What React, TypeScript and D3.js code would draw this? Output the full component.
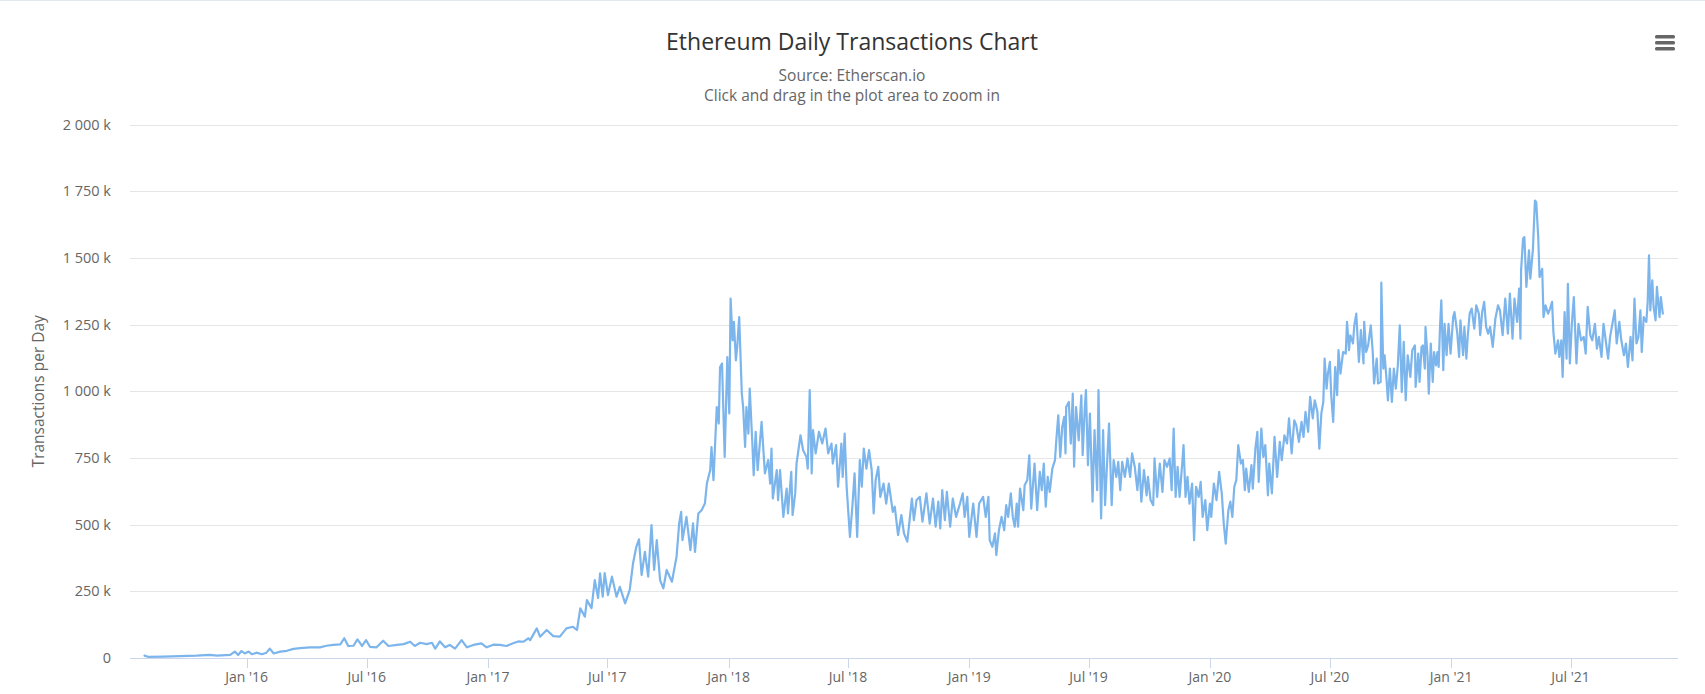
import React, { useEffect, useRef } from "react";
import * as d3 from "d3";

const WIDTH = 1705;
const HEIGHT = 694;

// daily transactions (thousands): [month-day, value]
const tx2015: [string, number][] = [
  ["07-30", 9], ["08-05", 4], ["08-28", 5], ["09-22", 7], ["10-17", 9], ["11-06", 12], ["11-17", 9],
  ["12-07", 12], ["12-14", 24], ["12-19", 11], ["12-24", 26], ["12-29", 17],
];
const tx2016: [string, number][] = [
  ["01-04", 24], ["01-09", 14], ["01-16", 20], ["01-24", 14], ["01-31", 20], ["02-05", 35], ["02-11", 17],
  ["02-21", 24], ["03-02", 27], ["03-12", 34], ["03-22", 37], ["04-06", 40], ["04-21", 40], ["05-01", 46],
  ["05-11", 49], ["05-22", 51], ["05-28", 74], ["06-03", 45], ["06-11", 46], ["06-17", 70], ["06-24", 45],
  ["06-30", 67], ["07-06", 42], ["07-16", 40], ["07-26", 65], ["08-03", 45], ["08-16", 49], ["08-26", 52],
  ["09-05", 61], ["09-12", 45], ["09-20", 57], ["09-30", 52], ["10-08", 57], ["10-13", 35], ["10-20", 62],
  ["10-28", 40], ["11-04", 49], ["11-12", 35], ["11-22", 67], ["11-30", 40], ["12-10", 49], ["12-22", 55],
  ["12-30", 40],
];
const tx2017: [string, number][] = [
  ["01-09", 50], ["01-19", 49], ["01-29", 45], ["02-08", 55], ["02-16", 62], ["02-24", 61], ["03-03", 74],
  ["03-06", 67], ["03-16", 111], ["03-21", 80], ["03-31", 105], ["04-10", 82], ["04-20", 80], ["04-30", 111],
  ["05-10", 117], ["05-16", 105], ["05-21", 186], ["05-28", 155], ["05-31", 217], ["06-07", 187], ["06-12", 292],
  ["06-17", 225], ["06-20", 317], ["06-24", 230], ["06-27", 318], ["07-02", 236], ["07-08", 305], ["07-15", 230],
  ["07-20", 267], ["07-28", 205], ["08-04", 255], ["08-09", 355], ["08-14", 417], ["08-18", 445], ["08-22", 311],
  ["08-27", 398], ["09-01", 305], ["09-06", 498], ["09-10", 330], ["09-14", 442], ["09-19", 292], ["09-24", 261],
  ["09-29", 330], ["10-07", 286], ["10-14", 380], ["10-18", 505], ["10-21", 548], ["10-23", 442], ["10-29", 529],
  ["11-04", 404], ["11-08", 505], ["11-11", 398], ["11-16", 542], ["11-21", 554], ["11-26", 579], ["11-29", 654],
  ["12-04", 704], ["12-06", 791], ["12-09", 667], ["12-14", 941], ["12-17", 879], ["12-19", 1091], ["12-22", 1104],
  ["12-26", 754], ["12-30", 1128],
];
const tx2018: [string, number][] = [
  ["01-02", 917], ["01-04", 1347], ["01-07", 1191], ["01-09", 1260], ["01-12", 1116], ["01-14", 1166], ["01-17", 1278],
  ["01-21", 991], ["01-23", 941], ["01-26", 791], ["01-28", 941], ["01-31", 841], ["02-02", 1010], ["02-06", 804],
  ["02-08", 685], ["02-11", 848], ["02-14", 704], ["02-20", 885], ["02-25", 692], ["03-02", 742], ["03-05", 654],
  ["03-07", 785], ["03-09", 598], ["03-15", 704], ["03-17", 592], ["03-20", 704], ["03-25", 529], ["03-30", 635],
  ["04-01", 542], ["04-06", 698], ["04-08", 536], ["04-12", 617], ["04-14", 729], ["04-20", 835], ["04-24", 779],
  ["04-29", 754], ["05-01", 710], ["05-04", 1004], ["05-07", 692], ["05-09", 854], ["05-13", 767], ["05-18", 848],
  ["05-23", 804], ["05-28", 860], ["06-01", 767], ["06-06", 804], ["06-08", 729], ["06-13", 798], ["06-16", 642],
  ["06-21", 804], ["06-23", 679], ["06-26", 841], ["06-29", 642], ["07-04", 454], ["07-08", 579], ["07-11", 692],
  ["07-15", 454], ["07-19", 742], ["07-22", 642], ["07-25", 785], ["07-29", 710], ["08-02", 779], ["08-06", 704],
  ["08-09", 542], ["08-12", 667], ["08-16", 717], ["08-19", 604], ["08-24", 654], ["08-28", 579], ["09-01", 654],
  ["09-07", 548], ["09-10", 567], ["09-15", 461], ["09-20", 536], ["09-24", 467], ["09-29", 436], ["10-06", 598],
  ["10-09", 517], ["10-13", 592], ["10-18", 604], ["10-22", 511], ["10-28", 617], ["11-02", 504], ["11-07", 598],
  ["11-11", 492], ["11-15", 586], ["11-18", 486], ["11-21", 629], ["11-25", 517], ["11-28", 623], ["12-03", 492],
  ["12-07", 598], ["12-12", 529], ["12-18", 579], ["12-22", 617], ["12-25", 529], ["12-29", 604],
];
const tx2019: [string, number][] = [
  ["01-01", 454], ["01-07", 579], ["01-12", 454], ["01-16", 579], ["01-22", 604], ["01-26", 529], ["01-30", 604],
  ["02-01", 442], ["02-05", 417], ["02-09", 467], ["02-11", 386], ["02-15", 479], ["02-19", 529], ["02-23", 479],
  ["02-26", 573], ["03-01", 529], ["03-05", 617], ["03-08", 529], ["03-11", 492], ["03-14", 579], ["03-16", 492],
  ["03-19", 635], ["03-24", 554], ["03-26", 648], ["03-30", 667], ["04-02", 760], ["04-05", 560], ["04-10", 729],
  ["04-14", 554], ["04-18", 698], ["04-21", 629], ["04-24", 729], ["04-27", 567], ["04-30", 679], ["05-03", 623],
  ["05-07", 710], ["05-11", 742], ["05-13", 816], ["05-16", 910], ["05-19", 754], ["05-22", 866], ["05-25", 904],
  ["05-27", 767], ["05-28", 941], ["06-01", 960], ["06-04", 804], ["06-07", 991], ["06-09", 717], ["06-12", 941],
  ["06-16", 816], ["06-20", 985], ["06-22", 760], ["06-25", 929], ["06-27", 1004], ["06-30", 723], ["07-03", 916],
  ["07-07", 586], ["07-10", 854], ["07-14", 629], ["07-16", 1004], ["07-20", 523], ["07-23", 854], ["07-26", 573],
  ["07-29", 729], ["08-01", 879], ["08-05", 573], ["08-08", 742], ["08-12", 679], ["08-15", 735], ["08-18", 629],
  ["08-21", 735], ["08-25", 679], ["08-29", 748], ["09-02", 679], ["09-05", 767], ["09-09", 717], ["09-13", 629],
  ["09-16", 729], ["09-19", 586], ["09-23", 704], ["09-27", 610], ["09-29", 679], ["10-03", 592], ["10-07", 573],
  ["10-09", 748], ["10-13", 604], ["10-17", 729], ["10-21", 623], ["10-24", 742], ["10-28", 717], ["11-01", 748],
  ["11-04", 629], ["11-07", 860], ["11-10", 604], ["11-13", 717], ["11-16", 604], ["11-20", 729], ["11-22", 798],
  ["11-25", 604], ["11-28", 679], ["12-01", 579], ["12-05", 654], ["12-08", 442], ["12-11", 642], ["12-15", 604],
  ["12-18", 660], ["12-21", 529], ["12-25", 592], ["12-28", 479],
];
const tx2020: [string, number][] = [
  ["01-01", 579], ["01-03", 529], ["01-07", 654], ["01-11", 592], ["01-15", 698], ["01-19", 617], ["01-22", 504],
  ["01-25", 429], ["01-29", 554], ["02-01", 586], ["02-04", 529], ["02-07", 642], ["02-10", 667], ["02-13", 798],
  ["02-17", 729], ["02-20", 742], ["02-23", 629], ["02-25", 710], ["02-29", 623], ["03-04", 723], ["03-06", 635],
  ["03-10", 785], ["03-13", 848], ["03-15", 660], ["03-19", 860], ["03-22", 754], ["03-25", 798], ["03-29", 610],
  ["03-31", 729], ["04-04", 617], ["04-08", 829], ["04-12", 679], ["04-16", 810], ["04-19", 742], ["04-23", 835],
  ["04-27", 804], ["04-30", 898], ["05-04", 767], ["05-08", 891], ["05-11", 873], ["05-15", 810], ["05-19", 885],
  ["05-22", 829], ["05-25", 923], ["05-29", 848], ["06-01", 979], ["06-05", 898], ["06-08", 966], ["06-12", 923],
  ["06-15", 785], ["06-18", 916], ["06-21", 960], ["06-23", 1122], ["06-26", 1010], ["06-28", 1066], ["07-01", 1110],
  ["07-03", 985], ["07-06", 885], ["07-09", 1091], ["07-12", 985], ["07-14", 1154], ["07-17", 1066], ["07-21", 1147],
  ["07-25", 1141], ["07-27", 1260], ["07-30", 1154], ["08-01", 1210], ["08-05", 1179], ["08-07", 1247], ["08-10", 1291],
  ["08-14", 1110], ["08-17", 1229], ["08-21", 1104], ["08-22", 1260], ["08-25", 1147], ["08-28", 1172], ["09-01", 1247],
  ["09-04", 1147], ["09-06", 1029], ["09-10", 1122], ["09-12", 1029], ["09-16", 1035], ["09-17", 1407], ["09-20", 1085],
  ["09-22", 1135], ["09-25", 1041], ["09-27", 966], ["09-30", 1085], ["10-03", 960], ["10-06", 1085], ["10-09", 1010],
  ["10-12", 1097], ["10-15", 1247], ["10-18", 997], ["10-21", 1185], ["10-24", 966], ["10-27", 1135], ["10-31", 1054],
  ["11-03", 1154], ["11-07", 1172], ["11-08", 1016], ["11-12", 1141], ["11-14", 1035], ["11-17", 1166], ["11-19", 1172],
  ["11-22", 1085], ["11-23", 1241], ["11-26", 1135], ["11-28", 991], ["12-01", 1179], ["12-04", 1035], ["12-06", 1147],
  ["12-09", 1097], ["12-11", 1147], ["12-13", 1091], ["12-15", 1241], ["12-17", 1341], ["12-20", 1079], ["12-22", 1253],
  ["12-25", 1135], ["12-28", 1253], ["12-31", 1141],
];
const tx2021: [string, number][] = [
  ["01-04", 1278], ["01-06", 1297], ["01-10", 1222], ["01-13", 1129], ["01-15", 1266], ["01-19", 1135], ["01-21", 1241],
  ["01-24", 1122], ["01-26", 1204], ["01-29", 1291], ["02-01", 1310], ["02-05", 1235], ["02-08", 1322], ["02-12", 1291],
  ["02-14", 1210], ["02-17", 1297], ["02-20", 1335], ["02-23", 1241], ["02-26", 1216], ["03-01", 1241], ["03-05", 1166],
  ["03-09", 1272], ["03-13", 1322], ["03-16", 1303], ["03-20", 1210], ["03-24", 1347], ["03-28", 1216], ["03-31", 1366],
  ["04-04", 1197], ["04-07", 1347], ["04-11", 1260], ["04-14", 1385], ["04-16", 1197], ["04-17", 1453], ["04-20", 1572],
  ["04-22", 1578], ["04-25", 1391], ["04-29", 1528], ["05-01", 1422], ["05-05", 1534], ["05-08", 1715], ["05-10", 1709],
  ["05-13", 1578], ["05-15", 1428], ["05-19", 1459], ["05-21", 1278], ["05-24", 1322], ["05-28", 1291], ["05-31", 1310],
  ["06-03", 1335], ["06-05", 1222], ["06-08", 1141], ["06-12", 1191], ["06-14", 1129], ["06-17", 1191], ["06-19", 1054],
  ["06-22", 1297], ["06-25", 1122], ["06-27", 1403], ["06-30", 1104], ["07-03", 1253], ["07-06", 1353], ["07-10", 1104],
  ["07-13", 1253], ["07-17", 1191], ["07-21", 1204], ["07-24", 1141], ["07-27", 1316], ["07-31", 1210], ["08-03", 1191],
  ["08-07", 1253], ["08-10", 1160], ["08-13", 1204], ["08-17", 1129], ["08-20", 1253], ["08-23", 1197], ["08-27", 1122],
  ["08-30", 1204], ["09-03", 1260], ["09-06", 1303], ["09-09", 1179], ["09-13", 1260], ["09-16", 1191], ["09-20", 1135],
  ["09-23", 1179], ["09-26", 1091], ["09-30", 1204], ["10-03", 1116], ["10-06", 1347], ["10-09", 1179], ["10-12", 1204],
  ["10-15", 1303], ["10-17", 1147], ["10-20", 1278], ["10-24", 1260], ["10-26", 1335], ["10-28", 1509], ["10-30", 1303],
  ["11-02", 1416], ["11-04", 1316], ["11-07", 1266], ["11-09", 1391], ["11-13", 1278], ["11-15", 1353], ["11-18", 1291],
];

const yTicks = [0, 250, 500, 750, 1000, 1250, 1500, 1750, 2000];
const xDomain = ["2015-07-08", "2021-12-11"];

const FONT = "'Open Sans', 'DejaVu Sans', sans-serif";

function App() {
  const svgRef = useRef<SVGSVGElement>(null);

  useEffect(() => {
    const svg = d3.select(svgRef.current);
    svg.selectAll("*").remove();

    const parse = d3.utcParse("%Y-%m-%d");
    const years: [number, [string, number][]][] = [
      [2015, tx2015], [2016, tx2016], [2017, tx2017], [2018, tx2018],
      [2019, tx2019], [2020, tx2020], [2021, tx2021],
    ];
    const data = years.flatMap(([yr, rows]) =>
      rows.map(([md, v]) => ({ date: parse(`${yr}-${md}`) as Date, value: v }))
    );

    const left = 130, right = 1678, top = 124.5, bottom = 658;
    const x = d3.scaleUtc().domain(xDomain.map(d => parse(d) as Date)).range([left, right]);
    const y = d3.scaleLinear().domain([0, 2000]).range([bottom, top]);

    // top border of the chart container
    svg.append("line")
      .attr("x1", 0).attr("x2", WIDTH).attr("y1", 0.5).attr("y2", 0.5)
      .attr("stroke", "#e3e7ef").attr("stroke-width", 1);

    // title & subtitle
    svg.append("text")
      .attr("x", 852).attr("y", 50)
      .attr("text-anchor", "middle")
      .attr("font-family", FONT).attr("font-size", 23)
      .attr("fill", "#333333")
      .text("Ethereum Daily Transactions Chart");
    svg.append("text")
      .attr("x", 852).attr("y", 80.5)
      .attr("text-anchor", "middle")
      .attr("font-family", FONT).attr("font-size", 15.5)
      .attr("fill", "#666666")
      .text("Source: Etherscan.io");
    svg.append("text")
      .attr("x", 852).attr("y", 100.5)
      .attr("text-anchor", "middle")
      .attr("font-family", FONT).attr("font-size", 15.5)
      .attr("fill", "#666666")
      .text("Click and drag in the plot area to zoom in");

    // menu icon
    const menu = svg.append("g").attr("fill", "#666666");
    [35, 41, 47].forEach(cy =>
      menu.append("rect").attr("x", 1655).attr("y", cy).attr("width", 20).attr("height", 3.5).attr("rx", 1.5)
    );

    // grid + y labels
    const fmt = d3.formatLocale({ decimal: ".", thousands: " ", grouping: [3], currency: ["", ""] }).format(",");
    const grid = svg.append("g");
    yTicks.forEach(t => {
      if (t > 0) {
        grid.append("line")
          .attr("x1", left).attr("x2", right)
          .attr("y1", Math.round(y(t)) + 0.5).attr("y2", Math.round(y(t)) + 0.5)
          .attr("stroke", "#e6e6e6").attr("stroke-width", 1);
      }
      grid.append("text")
        .attr("x", 111).attr("y", y(t) + 5)
        .attr("text-anchor", "end")
        .attr("font-family", FONT).attr("font-size", 14.5)
        .attr("fill", "#666666")
        .text(t === 0 ? "0" : `${fmt(t)} k`);
    });

    svg.append("text")
      .attr("transform", `translate(44, ${(top + bottom) / 2}) rotate(-90)`)
      .attr("text-anchor", "middle")
      .attr("font-family", FONT).attr("font-size", 15.5)
      .attr("fill", "#666666")
      .text("Transactions per Day");

    // x axis
    const xAxis = svg.append("g");
    xAxis.append("line")
      .attr("x1", left).attr("x2", right).attr("y1", bottom + 0.5).attr("y2", bottom + 0.5)
      .attr("stroke", "#ccd6eb").attr("stroke-width", 1);
    const ticks = x.ticks(d3.utcMonth.every(6) as d3.TimeInterval);
    const tf = d3.utcFormat("%b '%y");
    ticks.forEach(t => {
      const tx = Math.round(x(t)) + 0.5;
      xAxis.append("line")
        .attr("x1", tx).attr("x2", tx).attr("y1", bottom).attr("y2", bottom + 10)
        .attr("stroke", "#ccd6eb").attr("stroke-width", 1);
      xAxis.append("text")
        .attr("x", x(t)).attr("y", 682)
        .attr("text-anchor", "middle")
        .attr("font-family", FONT).attr("font-size", 14)
        .attr("fill", "#666666")
        .text(tf(t));
    });

    // the series
    const line = d3.line<{ date: Date; value: number }>()
      .x(d => x(d.date))
      .y(d => y(d.value));
    svg.append("path")
      .datum(data)
      .attr("d", line)
      .attr("fill", "none")
      .attr("stroke", "#7cb5ec")
      .attr("stroke-width", 2.2)
      .attr("stroke-linejoin", "round")
      .attr("stroke-linecap", "round");
  }, []);

  return (
    <svg
      ref={svgRef}
      width={WIDTH}
      height={HEIGHT}
      style={{ position: "absolute", left: 0, top: 0, background: "#ffffff" }}
    ></svg>
  );
}

export default App;
